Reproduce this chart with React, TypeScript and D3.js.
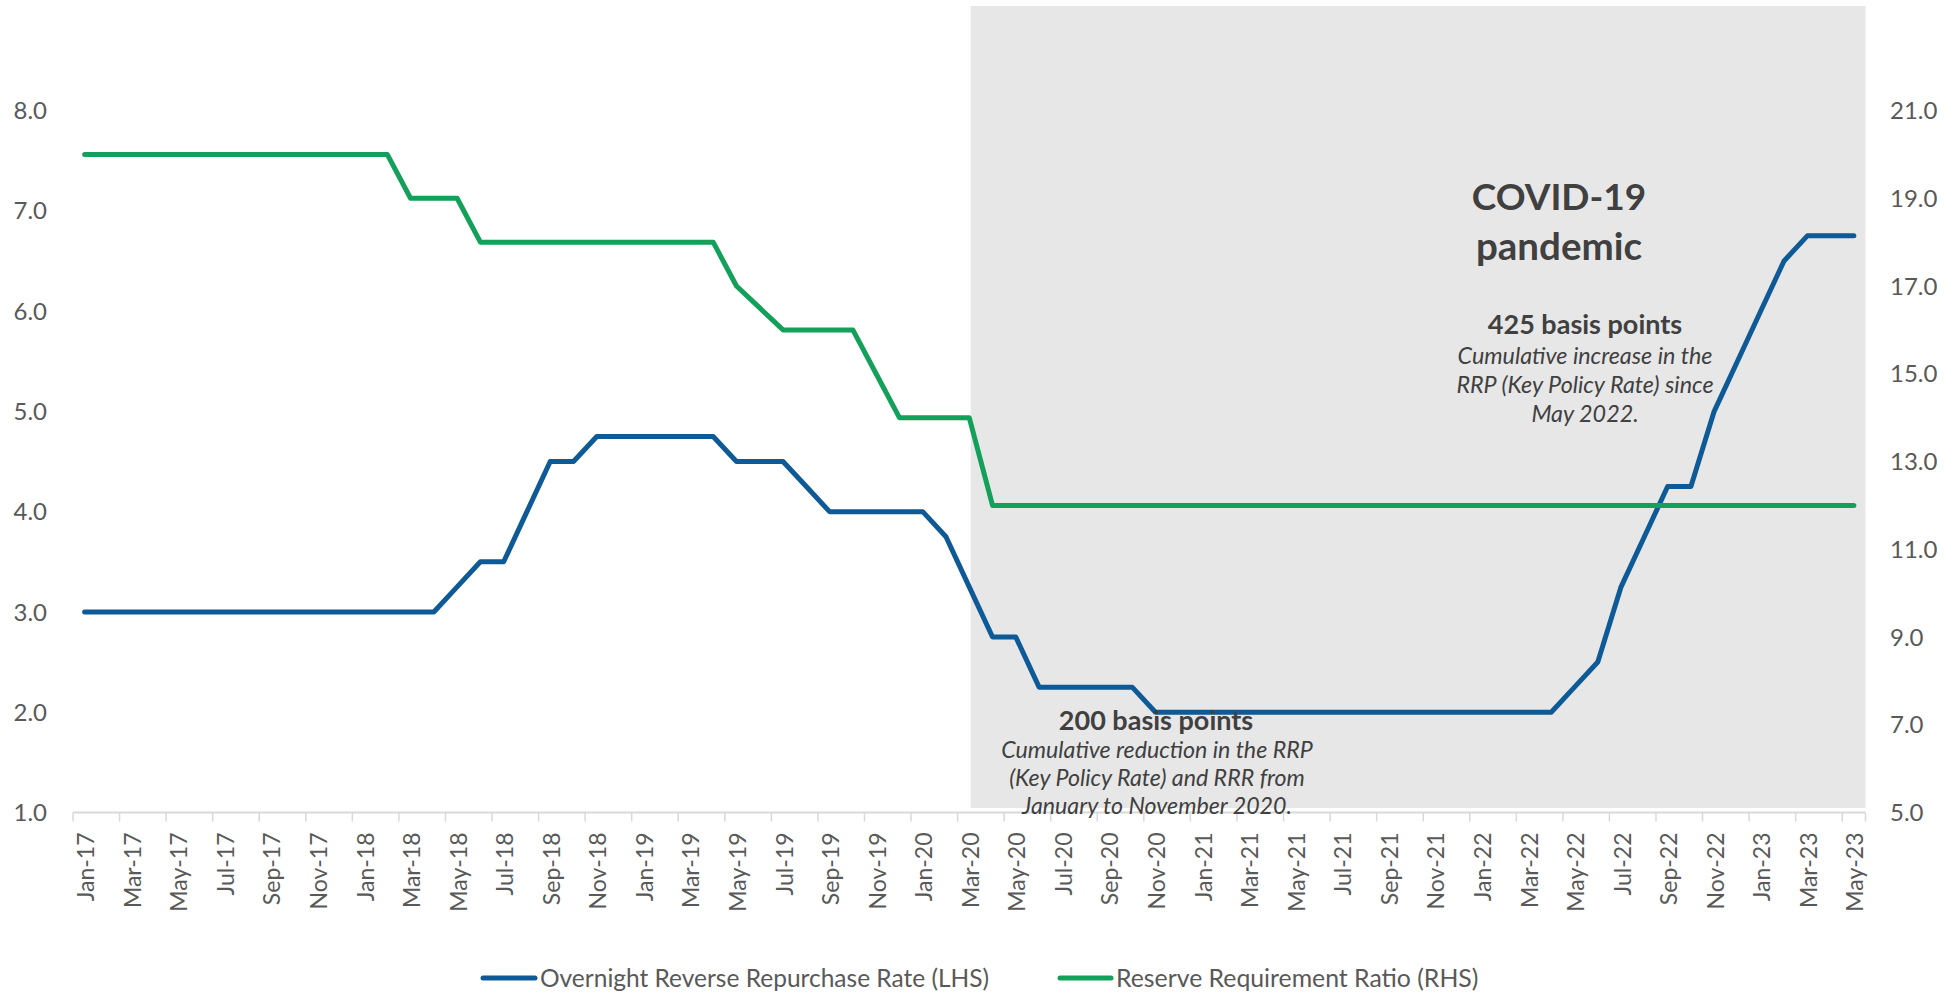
import React from "react";
import * as d3 from "d3";

// ---------- data ----------
const months: string[] = [
  "Jan-17","Feb-17","Mar-17","Apr-17","May-17","Jun-17","Jul-17","Aug-17","Sep-17","Oct-17","Nov-17","Dec-17",
  "Jan-18","Feb-18","Mar-18","Apr-18","May-18","Jun-18","Jul-18","Aug-18","Sep-18","Oct-18","Nov-18","Dec-18",
  "Jan-19","Feb-19","Mar-19","Apr-19","May-19","Jun-19","Jul-19","Aug-19","Sep-19","Oct-19","Nov-19","Dec-19",
  "Jan-20","Feb-20","Mar-20","Apr-20","May-20","Jun-20","Jul-20","Aug-20","Sep-20","Oct-20","Nov-20","Dec-20",
  "Jan-21","Feb-21","Mar-21","Apr-21","May-21","Jun-21","Jul-21","Aug-21","Sep-21","Oct-21","Nov-21","Dec-21",
  "Jan-22","Feb-22","Mar-22","Apr-22","May-22","Jun-22","Jul-22","Aug-22","Sep-22","Oct-22","Nov-22","Dec-22",
  "Jan-23","Feb-23","Mar-23","Apr-23","May-23",
];

// Overnight Reverse Repurchase Rate (LHS), %
const orrp: number[] = [
  3.0, 3.0, 3.0, 3.0, 3.0, 3.0, 3.0, 3.0, 3.0, 3.0, 3.0, 3.0,
  3.0, 3.0, 3.0, 3.0, 3.25, 3.5, 3.5, 4.0, 4.5, 4.5, 4.75, 4.75,
  4.75, 4.75, 4.75, 4.75, 4.5, 4.5, 4.5, 4.25, 4.0, 4.0, 4.0, 4.0,
  4.0, 3.75, 3.25, 2.75, 2.75, 2.25, 2.25, 2.25, 2.25, 2.25, 2.0, 2.0,
  2.0, 2.0, 2.0, 2.0, 2.0, 2.0, 2.0, 2.0, 2.0, 2.0, 2.0, 2.0,
  2.0, 2.0, 2.0, 2.0, 2.25, 2.5, 3.25, 3.75, 4.25, 4.25, 5.0, 5.5,
  6.0, 6.5, 6.75, 6.75, 6.75,
];

// Reserve Requirement Ratio (RHS), %
const rrr: number[] = [
  20, 20, 20, 20, 20, 20, 20, 20, 20, 20, 20, 20,
  20, 20, 19, 19, 19, 18, 18, 18, 18, 18, 18, 18,
  18, 18, 18, 18, 17, 16.5, 16, 16, 16, 16, 15, 14,
  14, 14, 14, 12, 12, 12, 12, 12, 12, 12, 12, 12,
  12, 12, 12, 12, 12, 12, 12, 12, 12, 12, 12, 12,
  12, 12, 12, 12, 12, 12, 12, 12, 12, 12, 12, 12,
  12, 12, 12, 12, 12,
];

const leftTicks: number[] = [1, 2, 3, 4, 5, 6, 7, 8];
const rightTicks: number[] = [5, 7, 9, 11, 13, 15, 17, 19, 21];
const xTickLabels: string[] = months.filter((_, i) => i % 2 === 0);
const covidStart = "Mar-20";

const seriesNames = ["Overnight Reverse Repurchase Rate (LHS)", "Reserve Requirement Ratio (RHS)"];

// ---------- layout ----------
const W = 1958;
const H = 993;
const X0 = 73;
const X1 = 1865.5;
const YB = 812.5;
const YT = 110.5;

const BLUE = "#0E5A97";
const GREEN = "#13A05A";
const AXIS_TXT = "#595959";
const ANN_TXT = "#404040";
const FONT = "Lato, 'Open Sans', sans-serif";

export default function App() {
  const x = d3.scaleBand<string>().domain(months).range([X0, X1]).padding(0);
  const xc = (m: string) => (x(m) as number) + x.bandwidth() / 2;
  const yL = d3.scaleLinear().domain([1, 8]).range([YB, YT]);
  const yR = d3.scaleLinear().domain([5, 21]).range([YB, YT]);

  const lineL = d3.line<number>().x((_, i) => xc(months[i])).y((d) => yL(d));
  const lineR = d3.line<number>().x((_, i) => xc(months[i])).y((d) => yR(d));
  const fmt = d3.format(".1f");

  const shadeX0 = xc(covidStart) + 1.5;

  return (
    <svg
      width={W}
      height={H}
      viewBox={`0 0 ${W} ${H}`}
      style={{ position: "absolute", left: 0, top: 0, background: "#fff" }}
      fontFamily={FONT}
    >
      {/* COVID shading */}
      <rect x={shadeX0} y={6} width={X1 - shadeX0} height={YB - 4.5 - 6} fill="#E7E7E7" />

      {/* x axis */}
      <line x1={X0} x2={X1} y1={YB} y2={YB} stroke="#D9D9D9" strokeWidth={2} />
      {xTickLabels.map((m) => (
        <line key={"t" + m} x1={x(m)} x2={x(m)} y1={YB} y2={YB + 9} stroke="#D9D9D9" strokeWidth={1.5} />
      ))}
      <line x1={X1} x2={X1} y1={YB} y2={YB + 9} stroke="#D9D9D9" strokeWidth={1.5} />
      {xTickLabels.map((m) => (
        <text
          key={"l" + m}
          transform={`translate(${xc(m) + 1.5},${YB + 20}) rotate(-90)`}
          textAnchor="end"
          dy="0.35em"
          fontSize={23}
          fill={AXIS_TXT}
        >
          {m}
        </text>
      ))}

      {/* left axis labels */}
      {leftTicks.map((t) => (
        <text key={"yl" + t} x={47} y={yL(t)} dy="0.36em" textAnchor="end" fontSize={24} fill={AXIS_TXT}>
          {fmt(t)}
        </text>
      ))}
      {/* right axis labels */}
      {rightTicks.map((t) => (
        <text key={"yr" + t} x={1890} y={yR(t)} dy="0.36em" textAnchor="start" fontSize={24} fill={AXIS_TXT}>
          {fmt(t)}
        </text>
      ))}

      {/* series */}
      <path d={lineL(orrp) as string} fill="none" stroke={BLUE} strokeWidth={5} strokeLinecap="round" strokeLinejoin="round" />
      <path d={lineR(rrr) as string} fill="none" stroke={GREEN} strokeWidth={5} strokeLinecap="round" strokeLinejoin="round" />

      {/* annotations */}
      <g fill={ANN_TXT} textAnchor="middle">
        <text x={1559} y={210} fontSize={37} fontWeight="bold">COVID-19</text>
        <text x={1559} y={260} fontSize={38.5} fontWeight="bold">pandemic</text>

        <text x={1585} y={334} fontSize={27} fontWeight="bold">425 basis points</text>
        <text x={1585} y={364} fontSize={23.3} fontStyle="italic">Cumulative increase in the</text>
        <text x={1585} y={393} fontSize={23.3} fontStyle="italic">RRP (Key Policy Rate) since</text>
        <text x={1585} y={422} fontSize={23.3} fontStyle="italic">May 2022.</text>

        <text x={1156} y={730} fontSize={27} fontWeight="bold">200 basis points</text>
        <text x={1157} y={758} fontSize={23.2} fontStyle="italic">Cumulative reduction in the RRP</text>
        <text x={1157} y={786} fontSize={23.2} fontStyle="italic">(Key Policy Rate) and RRR from</text>
        <text x={1157} y={814} fontSize={23.2} fontStyle="italic">January to November 2020.</text>
      </g>

      {/* legend */}
      <g>
        <line x1={483} x2={535} y1={978} y2={978} stroke={BLUE} strokeWidth={5} strokeLinecap="round" />
        <text x={540} y={978} dy="0.36em" fontSize={24.5} fill={AXIS_TXT}>{seriesNames[0]}</text>
        <line x1={1060} x2={1111} y1={978} y2={978} stroke={GREEN} strokeWidth={5} strokeLinecap="round" />
        <text x={1116} y={978} dy="0.36em" fontSize={24.8} fill={AXIS_TXT}>{seriesNames[1]}</text>
      </g>
    </svg>
  );
}
